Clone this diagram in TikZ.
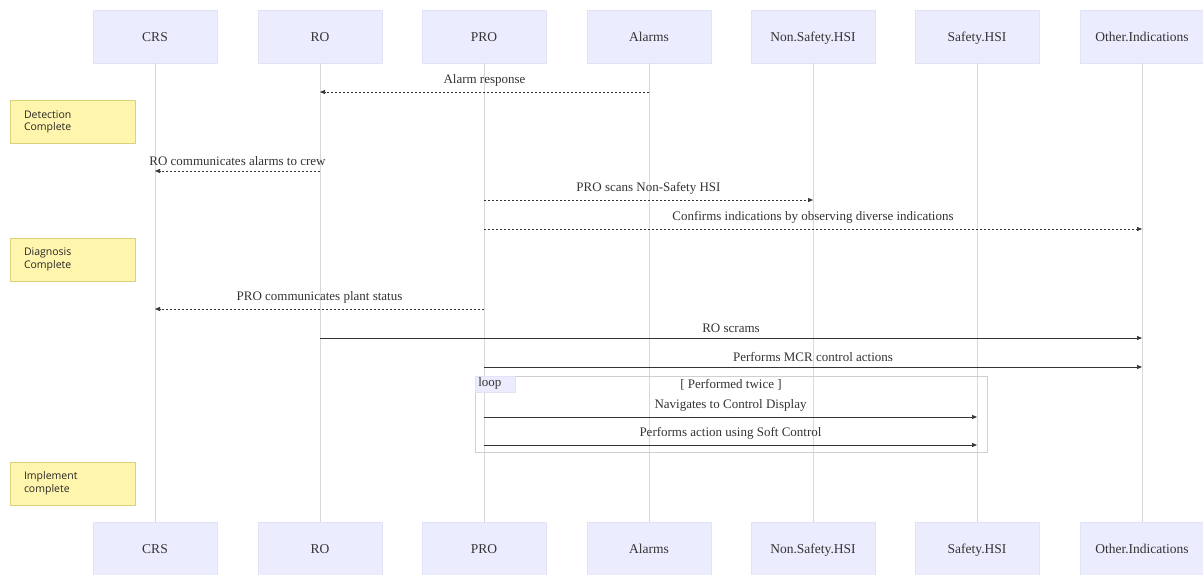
\documentclass[tikz,border=0pt]{standalone}
\usepackage{fontspec}
\setmainfont{Liberation Serif}
\newfontfamily\notefont{Open Sans}
\usetikzlibrary{arrows.meta}
\definecolor{actfill}{HTML}{ECECFF}
\definecolor{actline}{HTML}{E2E2F6}
\definecolor{notefill}{HTML}{FFF5AD}
\definecolor{noteline}{HTML}{D8D27A}
\definecolor{lifeline}{HTML}{D8D8D8}
\definecolor{msgcol}{HTML}{333333}
\definecolor{txtcol}{HTML}{333333}
\definecolor{loopline}{HTML}{CFCFCF}
\tikzset{
  actor/.style={draw=actline, fill=actfill, minimum width=124pt, minimum height=53pt, inner sep=0pt, font=\fontsize{13.5}{15}\selectfont, text=txtcol, text height=10pt, text depth=0pt},
  notebox/.style={draw=noteline, fill=notefill, minimum width=125pt, minimum height=43pt, inner sep=0pt, text width=97pt, align=left, font=\notefont\fontsize{10.5}{12.5}\selectfont, text=black!85},
  life/.style={draw=lifeline, line width=0.6pt},
  msg/.style={draw=msgcol, line width=0.7pt, -{Triangle[length=5pt,width=4pt]}},
  reply/.style={msg, dash pattern=on 2pt off 2pt},
  lbl/.style={font=\fontsize{13}{14}\selectfont, text=txtcol, inner sep=0pt},
}
\begin{document}
\begin{tikzpicture}[x=1pt,y=-1pt]
\useasboundingbox (0,0) rectangle (1203,575);
% actors
\foreach \n/\t/\x in {crs/CRS/155, ro/RO/320, pro/PRO/484, al/Alarms/649, ns/Non.Safety.HSI/813, sf/Safety.HSI/977, oi/Other.Indications/1142}{
  \node[actor] (\n top) at (\x,36.5) {\t};
  \node[actor] (\n bot) at (\x,548.5) {\t};
  \draw[life] (\n top.south) -- (\n bot.north);
  \coordinate (\n) at (\x,0);
}
% notes
\node[notebox] (n1) at (72.5,122) {Detection\\Complete};
\node[notebox] (n2) at (72.5,259.5) {Diagnosis\\Complete};
\node[notebox] (n3) at (72.5,483.5) {Implement\\complete};
% messages
\coordinate (m1s) at (al |- 0,92);  \coordinate (m1e) at (ro |- 0,92);
\draw[reply] (m1s) -- node[lbl, above=5pt] {Alarm response} (m1e);
\coordinate (m2s) at (ro |- 0,171);  \coordinate (m2e) at (crs |- 0,171);
\draw[reply] (m2s) -- node[lbl, above=5pt] {RO communicates alarms to crew} (m2e);
\coordinate (m3s) at (pro |- 0,200);  \coordinate (m3e) at (ns |- 0,200);
\draw[reply] (m3s) -- node[lbl, above=5pt] {PRO scans Non-Safety HSI} (m3e);
\coordinate (m4s) at (pro |- 0,229);  \coordinate (m4e) at (oi |- 0,229);
\draw[reply] (m4s) -- node[lbl, above=5pt] {Confirms indications by observing diverse indications} (m4e);
\coordinate (m5s) at (pro |- 0,309);  \coordinate (m5e) at (crs |- 0,309);
\draw[reply] (m5s) -- node[lbl, above=5pt] {PRO communicates plant status} (m5e);
\coordinate (m6s) at (ro |- 0,338);  \coordinate (m6e) at (oi |- 0,338);
\draw[msg] (m6s) -- node[lbl, above=5pt] {RO scrams} (m6e);
\coordinate (m7s) at (pro |- 0,367);  \coordinate (m7e) at (oi |- 0,367);
\draw[msg] (m7s) -- node[lbl, above=5pt] {Performs MCR control actions} (m7e);
% loop
\node[draw=loopline, line width=0.7pt, minimum width=512pt, minimum height=76pt, inner sep=0pt] (loopbox) at (731,414) {};
\node[fill=actfill, draw=actline, anchor=north west, minimum width=40pt, minimum height=16pt, inner sep=0pt, lbl] (looptag) at (loopbox.north west) {\hspace*{-10pt}loop};
\node[lbl, anchor=north] (loopcond) at ([yshift=-3pt]loopbox.north) {[ Performed twice ]};
\coordinate (m8s) at (pro |- 0,417);  \coordinate (m8e) at (sf |- 0,417);
\draw[msg] (m8s) -- node[lbl, above=5pt] {Navigates to Control Display} (m8e);
\coordinate (m9s) at (pro |- 0,445);  \coordinate (m9e) at (sf |- 0,445);
\draw[msg] (m9s) -- node[lbl, above=5pt] {Performs action using Soft Control} (m9e);
\end{tikzpicture}
\end{document}
